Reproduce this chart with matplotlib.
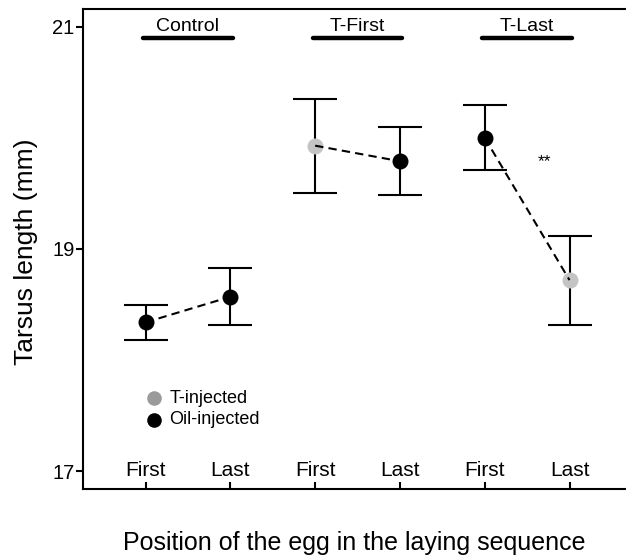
import matplotlib
matplotlib.use("Agg")
import matplotlib.pyplot as plt

plt.rcParams['font.family'] = ['Liberation Sans', 'DejaVu Sans']

groups = ["Control", "T-First", "T-Last"]
tick_labels = ["First", "Last", "First", "Last", "First", "Last"]
means = [18.34, 18.57, 19.93, 19.79, 20.00, 18.72]
upper = [18.50, 18.83, 20.35, 20.10, 20.30, 19.12]
lower = [18.18, 18.32, 19.50, 19.49, 19.71, 18.32]
treatment = ["Oil", "Oil", "T", "Oil", "Oil", "T"]
legend_labels = ["T-injected", "Oil-injected"]

point_colors = {"T": "#c4c4c4", "Oil": "#000000"}
legend_colors = ["#9a9a9a", "#000000"]

fig = plt.figure(figsize=(6.26, 5.56), dpi=100)
ax = fig.add_axes([83/626, 1 - 489/556, 1 - 83/626 + 0.01, (489 - 9)/556])

xs = list(range(1, 7))

for i, x in enumerate(xs):
    ax.errorbar([x], [means[i]],
                yerr=[[means[i] - lower[i]], [upper[i] - means[i]]],
                fmt='none', ecolor='black', elinewidth=1.5, capsize=16,
                capthick=1.5, zorder=2)
    ax.plot([x], [means[i]], 'o', color=point_colors[treatment[i]],
            markersize=11.5, markeredgewidth=0, zorder=3)

for g in range(3):
    x0, x1 = xs[2 * g], xs[2 * g + 1]
    ax.plot([x0, x1], [means[2 * g], means[2 * g + 1]], color='black',
            linestyle=(0, (4, 2.5)), linewidth=1.5, zorder=4)
    ax.plot([x0 - 0.03, x1 + 0.03], [20.9, 20.9], color='black',
            linewidth=3.2, solid_capstyle='round', zorder=2)
    ax.text((x0 + x1) / 2, 20.925, groups[g], ha='center', va='bottom',
            fontsize=14)

ax.text(5.70, 19.79, "**", ha='center', va='center', fontsize=12.5)

# legend
for j, lab in enumerate(legend_labels):
    ly = 17.655 - j * 0.19
    ax.plot([1.095], [ly], 'o', color=legend_colors[j], markersize=10.5,
            markeredgewidth=0)
    ax.text(1.28, ly, lab, ha='left', va='center', fontsize=13)

ax.set_xlim(0.262, 6.74)
ax.set_ylim(16.84, 21.16)
ax.set_yticks([17, 19, 21])
ax.set_yticklabels(["17", "19", "21"], fontsize=14.5)
ax.set_xticks(xs)
ax.set_xticklabels(tick_labels, fontsize=15)
ax.tick_params(axis='x', direction='in', length=5, width=1.5, pad=-20)
ax.tick_params(axis='y', direction='out', length=5, width=1.5, pad=1)
for s in ['left', 'bottom', 'top']:
    ax.spines[s].set_linewidth(1.5)
ax.spines['right'].set_visible(False)

fig.text(26/626, 1 - 252/556, "Tarsus length (mm)", rotation=90,
         ha='center', va='center', fontsize=19)
fig.text(354/626, 1 - 543/556, "Position of the egg in the laying sequence",
         ha='center', va='center', fontsize=18)

fig.savefig("out.png", dpi=100)
